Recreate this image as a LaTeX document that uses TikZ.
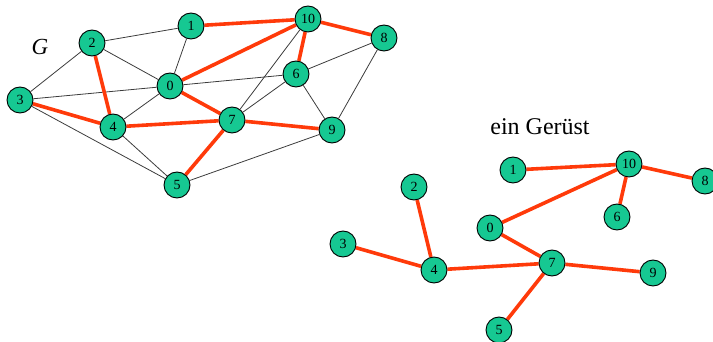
\documentclass[tikz,border=0pt]{standalone}
\usepackage{fontspec}
\setmainfont{Liberation Serif}
\usetikzlibrary{backgrounds}
\definecolor{nodegreen}{RGB}{22,200,146}
\definecolor{treered}{RGB}{255,58,10}
\definecolor{edgegray}{RGB}{60,60,60}
\begin{document}
\begin{tikzpicture}[x=1pt,y=-1pt,
  vtx/.style={circle,draw=black,line width=0.9pt,fill=nodegreen,minimum size=26pt,inner sep=0pt,font=\fontsize{14}{14}\selectfont},
  gedge/.style={draw=edgegray,line width=0.8pt},
  tedge/.style={draw=treered,line width=3.6pt}]
\useasboundingbox (0,0) rectangle (713,342);
% left graph G
\node[font=\itshape\fontsize{23}{23}\selectfont] (G) at (40,47) {G};
\node[vtx] (a1) at (191,26) {1};
\node[vtx] (a10) at (308,19) {10};
\node[vtx] (a8) at (384,38) {8};
\node[vtx] (a2) at (92,43) {2};
\node[vtx] (a0) at (170,86) {0};
\node[vtx] (a6) at (296,74) {6};
\node[vtx] (a3) at (20,100) {3};
\node[vtx] (a4) at (113,127) {4};
\node[vtx] (a7) at (232,120) {7};
\node[vtx] (a9) at (332,130) {9};
\node[vtx] (a5) at (177,185) {5};
% right tree
\node[font=\fontsize{24}{24}\selectfont] (title) at (540,127) {ein Gerüst};
\node[vtx] (b1) at (513,170) {1};
\node[vtx] (b10) at (629,164) {10};
\node[vtx] (b8) at (705,181) {8};
\node[vtx] (b2) at (414,187) {2};
\node[vtx] (b6) at (617,217) {6};
\node[vtx] (b0) at (490,228) {0};
\node[vtx] (b3) at (343,244) {3};
\node[vtx] (b4) at (434,270) {4};
\node[vtx] (b7) at (552,263) {7};
\node[vtx] (b9) at (653,273) {9};
\node[vtx] (b5) at (499,330) {5};
\begin{scope}[on background layer]
\foreach \u/\v in {a2/a1,a1/a0,a2/a0,a2/a3,a3/a0,a0/a6,a0/a4,a3/a5,a4/a5,a5/a9,a10/a7,a6/a7,a6/a8,a6/a9,a8/a9}
  \draw[gedge] (\u) -- (\v);
\foreach \u/\v in {a1/a10,a10/a8,a0/a10,a10/a6,a2/a4,a3/a4,a0/a7,a4/a7,a7/a9,a7/a5}
  \draw[tedge] (\u) -- (\v);
\foreach \u/\v in {b1/b10,b10/b8,b10/b0,b10/b6,b2/b4,b3/b4,b0/b7,b4/b7,b7/b9,b7/b5}
  \draw[tedge] (\u) -- (\v);
\end{scope}
\end{tikzpicture}
\end{document}
